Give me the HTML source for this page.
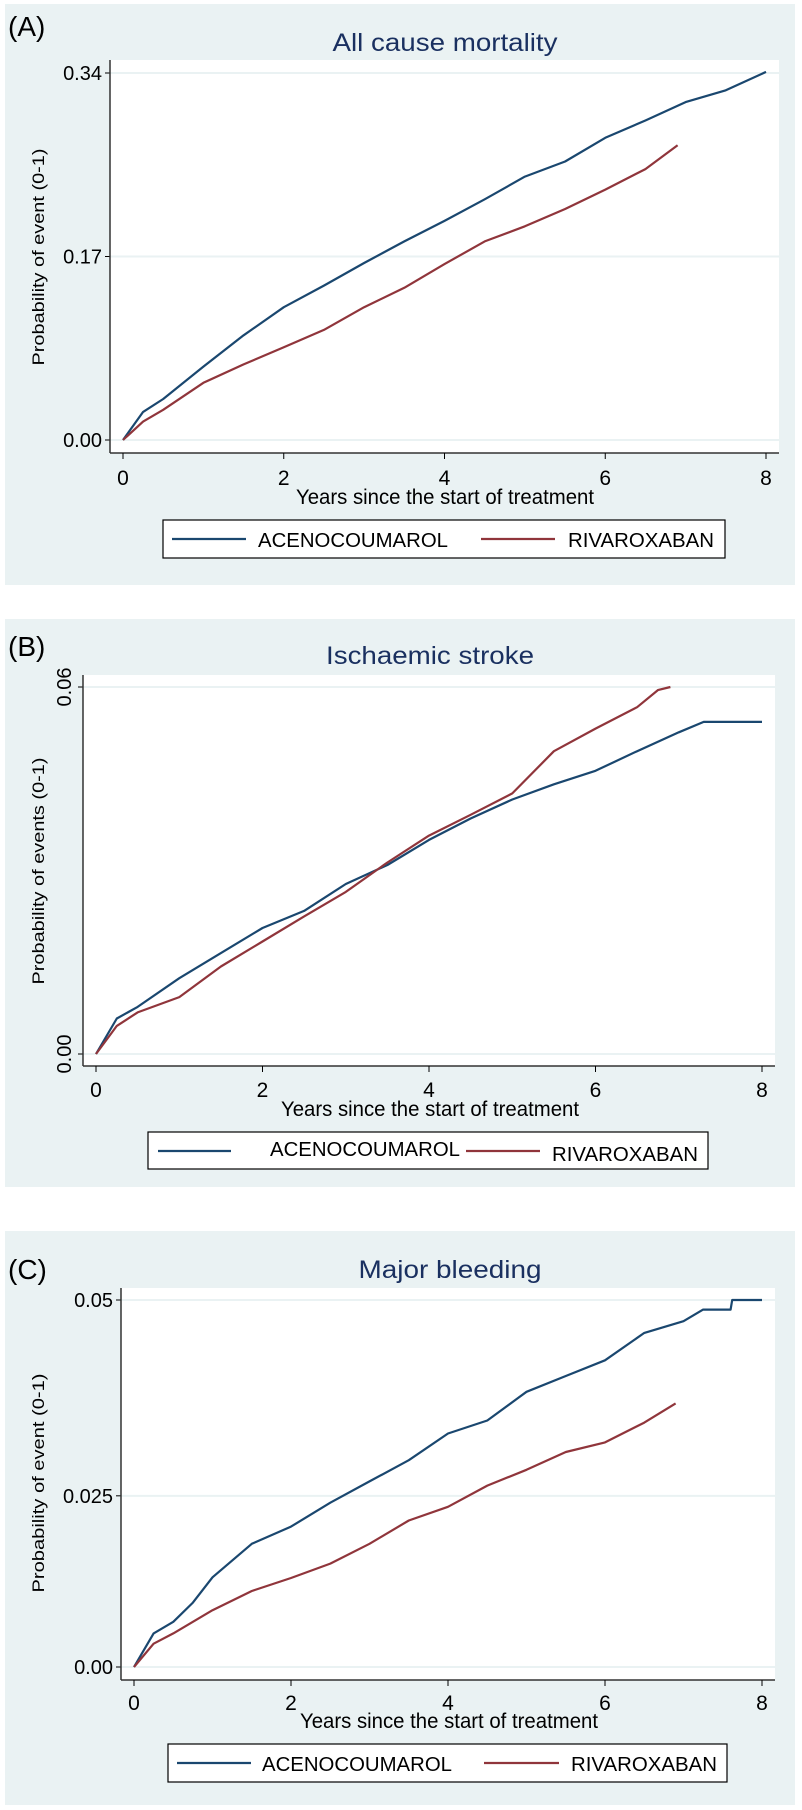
<!DOCTYPE html>
<html>
<head>
<meta charset="utf-8">
<style>
  html,body{margin:0;padding:0;background:#fff;}
  svg{display:block;font-family:"Liberation Sans",Arial,sans-serif;}
</style>
</head>
<body>
<svg id="fig" width="802" height="1810" viewBox="0 0 802 1810" xmlns="http://www.w3.org/2000/svg"></svg>
<script>
// ---- Panel A: All cause mortality ----
const yearsA_aceno = [0,0.25,0.5,1,1.5,2,2.5,3,3.5,4,4.5,5,5.5,6,6.5,7,7.5,8];
const valsA_aceno  = [0,0.026,0.038,0.068,0.097,0.123,0.143,0.164,0.184,0.203,0.223,0.244,0.258,0.280,0.296,0.313,0.324,0.341];
const yearsA_riva  = [0,0.25,0.5,1,1.5,2,2.5,3,3.5,4,4.5,5,5.5,6,6.5,6.9];
const valsA_riva   = [0,0.017,0.028,0.053,0.070,0.086,0.102,0.123,0.141,0.163,0.184,0.198,0.214,0.232,0.251,0.273];
const yTicksA = [0,0.17,0.34];
const yLabelsA = ["0.00","0.17","0.34"];
// ---- Panel B: Ischaemic stroke ----
const yearsB_aceno = [0,0.25,0.5,1,1.5,2,2.5,3,3.5,4,4.5,5,5.5,6,6.5,7,7.3,7.5,8];
const valsB_aceno  = [0,0.0058,0.0077,0.0124,0.0165,0.0206,0.0234,0.0278,0.0309,0.035,0.0385,0.0416,0.0441,0.0463,0.0495,0.0526,0.0543,0.0543,0.0543];
const yearsB_riva  = [0,0.25,0.5,1,1.5,2,2.5,3,3.5,4,4.5,5,5.5,6,6.5,6.75,6.9];
const valsB_riva   = [0,0.0046,0.0068,0.0093,0.0143,0.0184,0.0225,0.0265,0.0313,0.0357,0.0391,0.0426,0.0495,0.0532,0.0567,0.0595,0.06];
const yTicksB = [0,0.06];
const yLabelsB = ["0.00","0.06"];
// ---- Panel C: Major bleeding ----
const yearsC_aceno = [0,0.25,0.5,0.75,1,1.5,2,2.5,3,3.5,4,4.5,5,5.5,6,6.5,7,7.25,7.6,7.62,8];
const valsC_aceno  = [0,0.0049,0.0066,0.0094,0.0131,0.018,0.0205,0.024,0.0271,0.0302,0.0341,0.036,0.0402,0.0425,0.0448,0.0488,0.0505,0.0522,0.0522,0.0536,0.0536];
const yearsC_riva  = [0,0.25,0.5,1,1.5,2,2.5,3,3.5,4,4.5,5,5.5,6,6.5,6.9];
const valsC_riva   = [0,0.0034,0.0049,0.0083,0.0111,0.013,0.0151,0.018,0.0214,0.0234,0.0265,0.0288,0.0314,0.0328,0.0357,0.0385];
const yTicksC = [0,0.025,0.0536];
const yLabelsC = ["0.00","0.025","0.05"];
const xTicks = [0,2,4,6,8];
const xLabels = ["0","2","4","6","8"];
const seriesNames = ["ACENOCOUMAROL","RIVAROXABAN"];

const NS="http://www.w3.org/2000/svg";
const svg=document.getElementById('fig');
function mk(tag,attrs,parent){const e=document.createElementNS(NS,tag);for(const k in attrs)e.setAttribute(k,attrs[k]);(parent||svg).appendChild(e);return e;}
const BLUE="#1a476f", RED="#90353b", BG="#eaf2f3", GRID="#eaf2f3", NAVY="#1a3060";

function panel(c){
  const g=mk('g',{});
  
  
  const bg=mk('rect',{x:5,y:c.bgTop,width:790,height:c.bgBot-c.bgTop,fill:BG},g);
  
  
  const lab=mk('text',{x:8,y:c.labY,'font-size':28,fill:'#000'},g);
  lab.textContent=c.letter;
  
  
  const t=mk('text',{x:c.titleX,y:c.titleY,'font-size':25,fill:NAVY,'text-anchor':'middle',textLength:c.titleW,lengthAdjust:'spacingAndGlyphs'},g);
  t.textContent=c.title;
  
  
  const pa=mk('rect',{x:c.px0,y:c.py0,width:c.px1-c.px0,height:c.axY-c.py0,fill:'#fff'},g);
  
  
  const xs=v=>c.x0+(c.x8-c.x0)*v/8;
  const ys=v=>c.y0+(c.yTop-c.y0)*v/c.yTopVal;
  c.yt.forEach((v,i)=>{
    const gl=mk('line',{x1:c.px0,x2:c.px1,y1:ys(v),y2:ys(v),stroke:GRID,'stroke-width':2},g);
    
    
    const tk=mk('line',{x1:c.px0-5,x2:c.px0,y1:ys(v),y2:ys(v),stroke:'#000','stroke-width':1},g);
    
    
    let tl;
    if(c.rotY){
      tl=mk('text',{x:0,y:0,'font-size':20,'text-anchor':'middle',transform:`translate(${c.px0-12},${ys(v)}) rotate(-90)`},g);
    } else {
      tl=mk('text',{x:c.px0-8,y:ys(v)+7,'font-size':20,'text-anchor':'end'},g);
    }
    tl.textContent=c.yl[i];
    
    
  });
  const ya=mk('line',{x1:c.px0,x2:c.px0,y1:c.py0,y2:c.axY,stroke:'#333','stroke-width':1.5},g);
  
  
  const xa=mk('line',{x1:c.px0,x2:c.px1,y1:c.axY,y2:c.axY,stroke:'#333','stroke-width':1.5},g);
  
  
  xTicks.forEach((v,i)=>{
    const tk=mk('line',{x1:xs(v),x2:xs(v),y1:c.axY,y2:c.axY+6,stroke:'#000','stroke-width':1},g);
    
    
    const tl=mk('text',{x:xs(v),y:c.xlY,'font-size':21,'text-anchor':'middle'},g);
    tl.textContent=xLabels[i];
    
    
  });
  const xt=mk('text',{x:c.xtX,y:c.xtY,'font-size':21,'text-anchor':'middle',textLength:298,lengthAdjust:'spacingAndGlyphs'},g);
  xt.textContent="Years since the start of treatment";
  
  
  const yt=mk('text',{x:0,y:0,'font-size':17,'text-anchor':'middle',textLength:c.ytLen,lengthAdjust:'spacingAndGlyphs',transform:`translate(44,${c.ytY}) rotate(-90)`},g);
  yt.textContent=c.ytitle;
  
  
  [[c.ax,c.av,BLUE,'series-acenocoumarol'],[c.rx,c.rv,RED,'series-rivaroxaban']].forEach(s=>{
    const pts=s[0].map((x,i)=>xs(x).toFixed(1)+','+ys(s[1][i]).toFixed(1)).join(' ');
    const pl=mk('polyline',{points:pts,fill:'none',stroke:s[2],'stroke-width':2.2,'stroke-linejoin':'round'},g);
    
    
  });
  const L=c.leg;
  const lb=mk('rect',{x:L.x0,y:L.y0,width:L.x1-L.x0,height:L.y1-L.y0,fill:'#fff',stroke:'#000','stroke-width':1.2},g);
  
  
  const l1=mk('line',{x1:L.b0,x2:L.b1,y1:L.ly,y2:L.ly,stroke:BLUE,'stroke-width':2.2},g);
  
  
  const t1=mk('text',{x:L.t1,y:L.ty1,'font-size':20,textLength:190,lengthAdjust:'spacingAndGlyphs'},g);
  t1.textContent=seriesNames[0];
  
  
  const l2=mk('line',{x1:L.r0,x2:L.r1,y1:L.ly,y2:L.ly,stroke:RED,'stroke-width':2.2},g);
  
  
  const t2=mk('text',{x:L.t2,y:L.ty2,'font-size':20,textLength:146,lengthAdjust:'spacingAndGlyphs'},g);
  t2.textContent=seriesNames[1];
  
  
}

panel({name:'panel-a-all-cause-mortality',letter:'(A)',title:'All cause mortality',bgTop:4,bgBot:585,labY:36,titleX:445,titleY:51,titleW:225,
  px0:110,px1:779,py0:60,axY:453,x0:123,x8:766,y0:440,yTop:73,yTopVal:0.34,yt:yTicksA,yl:yLabelsA,rotY:false,
  xlY:485,xtX:445,xtY:504,ytitle:'Probability of event (0-1)',ytY:257,ytLen:217,
  ax:yearsA_aceno,av:valsA_aceno,rx:yearsA_riva,rv:valsA_riva,
  leg:{x0:163,x1:725,y0:520,y1:558,ly:539,b0:172,b1:246,t1:258,ty1:547,r0:481,r1:555,t2:568,ty2:547}});

panel({name:'panel-b-ischaemic-stroke',letter:'(B)',title:'Ischaemic stroke',bgTop:619,bgBot:1187,labY:656,titleX:430,titleY:664,titleW:208,
  px0:83,px1:775,py0:675,axY:1066,x0:96,x8:762,y0:1054,yTop:687,yTopVal:0.06,yt:yTicksB,yl:yLabelsB,rotY:true,
  xlY:1097,xtX:430,xtY:1116,ytitle:'Probability of events (0-1)',ytY:871,ytLen:227,
  ax:yearsB_aceno,av:valsB_aceno,rx:yearsB_riva,rv:valsB_riva,
  leg:{x0:148,x1:708,y0:1132,y1:1169,ly:1151,b0:158,b1:231,t1:270,ty1:1156,r0:466,r1:540,t2:552,ty2:1161}});

panel({name:'panel-c-major-bleeding',letter:'(C)',title:'Major bleeding',bgTop:1231,bgBot:1805,labY:1279,titleX:450,titleY:1278,titleW:183,
  px0:121,px1:775,py0:1288,axY:1680,x0:134,x8:762,y0:1667,yTop:1300,yTopVal:0.0536,yt:yTicksC,yl:yLabelsC,rotY:false,
  xlY:1710,xtX:449,xtY:1728,ytitle:'Probability of event (0-1)',ytY:1483,ytLen:219,
  ax:yearsC_aceno,av:valsC_aceno,rx:yearsC_riva,rv:valsC_riva,
  leg:{x0:168,x1:727,y0:1744,y1:1782,ly:1763,b0:177,b1:251,t1:262,ty1:1771,r0:484,r1:559,t2:571,ty2:1771}});
</script>
</body>
</html>
